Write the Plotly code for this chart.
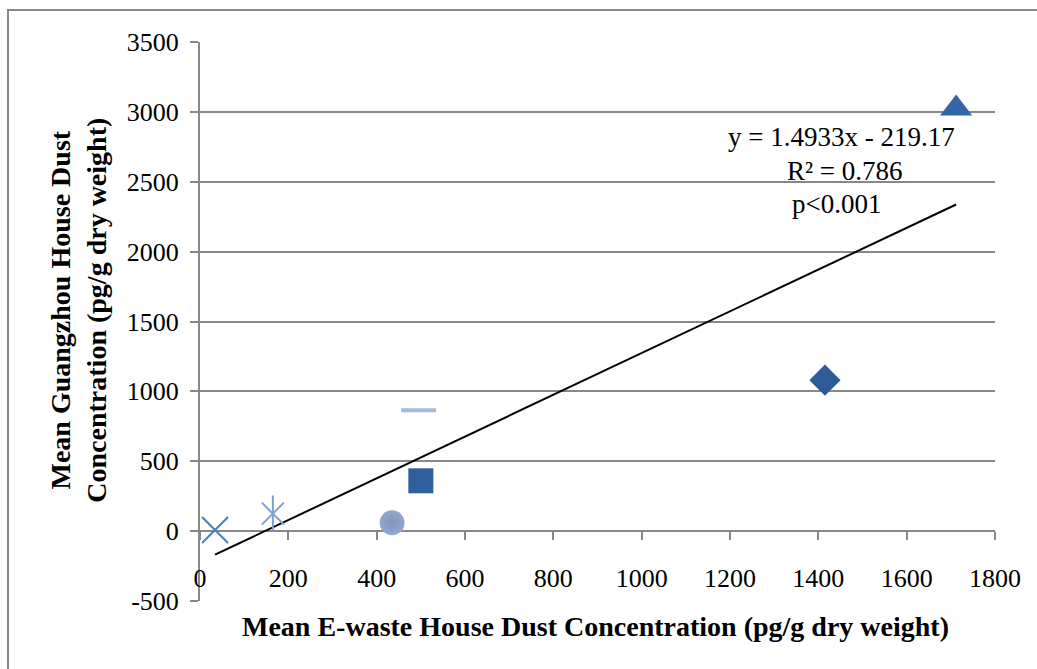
import plotly.graph_objects as go

# data
x_vals = [34, 165, 435, 500, 495, 1415, 1712]
y_vals = [8, 125, 60, 360, 865, 1080, 3025]
slope = 1.4933
intercept = -219.17
y_ticks = [-500, 0, 500, 1000, 1500, 2000, 2500, 3000, 3500]
y_tick_labels = ["-500", "0", "500", "1000", "1500", "2000", "2500", "3000", "3500"]
eq_text = "y = 1.4933x - 219.17"
r2_text = "R² = 0.786"
p_text = "p<0.001"
x_title = "Mean E-waste House Dust Concentration (pg/g dry weight)"
y_title = "Mean Guangzhou House Dust<br>Concentration (pg/g dry weight)"

# styles: list of marker layers per point
styles = [
    [dict(symbol="x-thin-open", size=26, color="#4a7ebb", line=dict(width=2, color="#4a7ebb"))],
    [dict(symbol="x-thin-open", size=22, color="#7f9fd4", line=dict(width=2, color="#7f9fd4")),
     dict(symbol="line-ns-open", size=26, color="#7f9fd4", line=dict(width=2, color="#7f9fd4"))],
    [dict(symbol="circle", size=25, color="#94a8cf", line=dict(width=0),
          gradient=dict(type="radial", color="#7f93bc"))],
    [dict(symbol="square", size=25, color="#2f5f9e", line=dict(width=0))],
    [dict(symbol="line-ew-open", size=25, color="#a8badc", line=dict(width=4, color="#a8badc"))],
    [dict(symbol="diamond", size=24, color="#2c5b97", line=dict(width=0))],
    [dict(symbol="triangle-up", size=28, color="#3466a8", line=dict(width=0))],
]

FONT = "Liberation Serif"
fig = go.Figure()

xmin, xmax = min(x_vals), max(x_vals)
fig.add_trace(go.Scatter(x=[xmin, xmax], y=[slope * xmin + intercept, slope * xmax + intercept],
                         mode="lines", line=dict(color="black", width=2), showlegend=False,
                         hoverinfo="skip"))

for xv, yv, layers in zip(x_vals, y_vals, styles):
    for st in layers:
        fig.add_trace(go.Scatter(x=[xv], y=[yv], mode="markers", marker=st, showlegend=False))

fig.update_layout(
    width=1037, height=669,
    margin=dict(l=200, r=42, t=42, b=68),
    paper_bgcolor="white", plot_bgcolor="white",
    font=dict(family=FONT, size=26, color="black"),
    xaxis=dict(range=[0, 1800], dtick=200, tick0=0, anchor="free", position=0.125,
               showgrid=False, zeroline=False, showline=False,
               ticks="outside", ticklen=8, tickwidth=2, tickcolor="#888",
               ticklabelstandoff=16, tickfont=dict(size=26, family=FONT)),
    yaxis=dict(range=[-500, 3500], tickmode="array", tickvals=y_ticks, ticktext=y_tick_labels,
               showgrid=True, gridcolor="#888",
               gridwidth=2, zeroline=False, showline=True, linecolor="#888", linewidth=2,
               ticks="outside", ticklen=8, tickwidth=2, tickcolor="#888",
               ticklabelstandoff=6, tickfont=dict(size=26, family=FONT)),
    shapes=[dict(type="rect", xref="paper", yref="paper", x0=-0.2415, x1=1.2, y0=-0.3,
                 y1=1.0572, line=dict(color="#888", width=2), fillcolor="rgba(0,0,0,0)")],
    annotations=[
        dict(text=x_title, xref="paper", yref="paper", x=0.498, y=-0.0465,
             xanchor="center", yanchor="middle",
             showarrow=False, font=dict(size=28, family=FONT, color="black", weight="bold")),
        dict(text=y_title, xref="paper", yref="paper", x=-0.153, y=0.52, textangle=-90,
             xanchor="center", yanchor="middle",
             showarrow=False, font=dict(size=28, family=FONT, color="black", weight="bold")),
        dict(text=eq_text, xref="x", yref="y", x=1715, y=2819, xanchor="right", showarrow=False,
             font=dict(size=27, family=FONT, color="black")),
        dict(text=r2_text, xref="x", yref="y", x=1460, y=2576, xanchor="center", showarrow=False,
             font=dict(size=27, family=FONT, color="black")),
        dict(text=p_text, xref="x", yref="y", x=1336, y=2340, xanchor="left", showarrow=False,
             font=dict(size=27, family=FONT, color="black")),
    ],
)

fig.write_html("out.html")
